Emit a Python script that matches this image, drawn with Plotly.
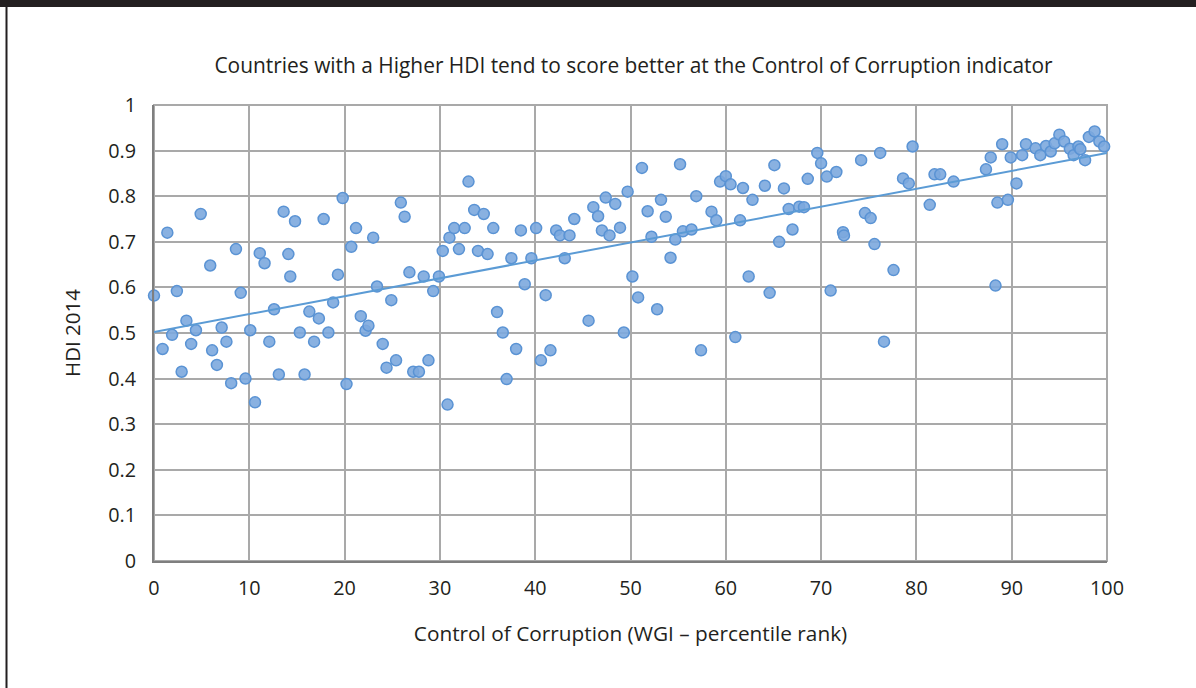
import numpy as np
import plotly.graph_objects as go

# Control of Corruption (WGI percentile rank)
wgi = [0.0, 0.9, 1.4, 1.9, 2.4, 2.9, 3.4, 3.9, 4.4, 4.9, 5.9, 6.1, 6.6, 7.1, 7.6, 8.1, 8.6, 9.1, 9.6,
       10.1, 10.6, 11.1, 11.6, 12.1, 12.6, 13.1, 13.6, 14.1, 14.3, 14.8, 15.3, 15.8, 16.3, 16.8, 17.3,
       17.8, 18.3, 18.8, 19.3, 19.8, 20.2, 20.7, 21.2, 21.7, 22.2, 22.5, 23.0, 23.4, 24.0, 24.4, 24.9,
       25.4, 25.9, 26.3, 26.8, 27.2, 27.8, 28.3, 28.8, 29.3, 29.9, 30.3, 30.8, 31.0, 31.5, 32.0, 32.6,
       33.0, 33.6, 34.0, 34.6, 35.0, 35.6, 36.0, 36.6, 37.0, 37.5, 38.0, 38.5, 38.9, 39.6, 40.1, 40.6,
       41.1, 41.6, 42.2, 42.6, 43.1, 43.6, 44.1, 45.6, 46.1, 46.6, 47.0, 47.4, 47.8, 48.4, 48.9, 49.3,
       49.7, 50.2, 50.8, 51.2, 51.8, 52.2, 52.8, 53.2, 53.7, 54.2, 54.7, 55.2, 55.5, 56.4, 56.9, 57.4,
       58.5, 59.0, 59.4, 60.0, 60.5, 61.0, 61.5, 61.8, 62.4, 62.8, 64.1, 64.6, 65.1, 65.6, 66.1, 66.6,
       67.0, 67.7, 68.2, 68.6, 69.6, 70.0, 70.6, 71.0, 71.6, 72.3, 72.4, 74.2, 74.6, 75.2, 75.6, 76.2,
       76.6, 77.6, 78.6, 79.2, 79.6, 81.4, 81.9, 82.5, 83.9, 87.3, 87.8, 88.3, 88.5, 89.0, 89.6, 89.9,
       90.5, 91.1, 91.5, 92.5, 93.0, 93.6, 94.1, 94.5, 95.0, 95.5, 96.1, 96.5, 97.0, 97.2, 97.7, 98.1,
       98.7, 99.2, 99.7]

# HDI 2014
hdi = [0.582, 0.465, 0.72, 0.496, 0.592, 0.415, 0.527, 0.476, 0.506, 0.761, 0.648, 0.462, 0.43, 0.512,
       0.481, 0.39, 0.684, 0.588, 0.40, 0.506, 0.348, 0.675, 0.653, 0.481, 0.552, 0.409, 0.766, 0.673,
       0.624, 0.745, 0.501, 0.409, 0.547, 0.481, 0.532, 0.75, 0.501, 0.567, 0.628, 0.796, 0.388, 0.689,
       0.73, 0.537, 0.505, 0.516, 0.709, 0.602, 0.476, 0.424, 0.572, 0.44, 0.786, 0.755, 0.633, 0.415,
       0.415, 0.624, 0.44, 0.592, 0.624, 0.68, 0.343, 0.709, 0.73, 0.684, 0.73, 0.832, 0.77, 0.68, 0.761,
       0.673, 0.73, 0.546, 0.501, 0.399, 0.664, 0.465, 0.725, 0.607, 0.664, 0.73, 0.44, 0.583, 0.462,
       0.725, 0.714, 0.664, 0.714, 0.75, 0.527, 0.776, 0.756, 0.725, 0.797, 0.714, 0.783, 0.731, 0.501,
       0.81, 0.624, 0.578, 0.862, 0.767, 0.711, 0.552, 0.792, 0.755, 0.665, 0.705, 0.87, 0.723, 0.727,
       0.80, 0.462, 0.766, 0.747, 0.832, 0.844, 0.826, 0.491, 0.747, 0.818, 0.624, 0.792, 0.823, 0.588,
       0.868, 0.70, 0.817, 0.772, 0.727, 0.777, 0.776, 0.838, 0.895, 0.872, 0.843, 0.593, 0.853, 0.721,
       0.714, 0.879, 0.763, 0.752, 0.695, 0.895, 0.481, 0.638, 0.839, 0.828, 0.909, 0.781, 0.848, 0.848,
       0.832, 0.859, 0.885, 0.604, 0.786, 0.914, 0.792, 0.885, 0.828, 0.89, 0.914, 0.905, 0.89, 0.91,
       0.898, 0.916, 0.935, 0.92, 0.904, 0.89, 0.909, 0.903, 0.879, 0.93, 0.942, 0.92, 0.909]

x_ticks = [0, 10, 20, 30, 40, 50, 60, 70, 80, 90, 100]
y_ticks = [0, 0.1, 0.2, 0.3, 0.4, 0.5, 0.6, 0.7, 0.8, 0.9, 1]
y_tick_labels = ["0", "0.1", "0.2", "0.3", "0.4", "0.5", "0.6", "0.7", "0.8", "0.9", "1"]

title_text = "Countries with a Higher HDI tend to score better at the Control of Corruption indicator"
x_title = "Control of Corruption (WGI – percentile rank)"
y_title = "HDI 2014"

slope, intercept = np.polyfit(np.array(wgi), np.array(hdi), 1)
trend_x = np.array([0, 100])
trend_y = intercept + slope * trend_x

FONT = "Open Sans"
TXT = "#231f20"
GRID = "#a9a9a9"

fig = go.Figure()
fig.add_trace(go.Scatter(
    x=wgi, y=hdi, mode="markers",
    marker=dict(size=11, color="rgba(124,168,222,0.9)", line=dict(color="#5a93d4", width=1.5)),
    cliponaxis=False, showlegend=False, hoverinfo="x+y"))
fig.add_trace(go.Scatter(
    x=trend_x, y=trend_y, mode="lines",
    line=dict(color="#5b9bd5", width=2), showlegend=False, hoverinfo="skip"))

W, H = 1196, 688
L, R, T, B = 154, 89, 105, 127
pw, ph = W - L - R, H - T - B

def px2paper_x(px):
    return (px - L) / pw

def px2paper_y(py):
    return (H - B - py) / ph

shapes = [
    # dark band at top
    dict(type="rect", xref="paper", yref="paper",
         x0=px2paper_x(0), x1=px2paper_x(W), y0=px2paper_y(7), y1=px2paper_y(-2),
         fillcolor=TXT, line=dict(width=0), layer="above"),
    # left frame line
    dict(type="line", xref="paper", yref="paper",
         x0=px2paper_x(6.5), x1=px2paper_x(6.5), y0=px2paper_y(7), y1=px2paper_y(H + 2),
         line=dict(color=TXT, width=2)),
    # plot border top/right
    dict(type="rect", xref="paper", yref="paper", x0=0, x1=1, y0=0, y1=1,
         line=dict(color=GRID, width=2), layer="below"),
]

fig.update_layout(
    width=W, height=H,
    margin=dict(l=L, r=R, t=T, b=B),
    paper_bgcolor="white", plot_bgcolor="white",
    font=dict(family=FONT, size=20, color=TXT),
    title=dict(text=title_text, x=(633.5 / W), xanchor="center", xref="container",
               y=1 - 66 / H, yanchor="middle", yref="container",
               font=dict(family=FONT, size=20.9, color=TXT)),
    shapes=shapes,
    xaxis=dict(range=[0, 100], tickvals=x_ticks, showgrid=True, gridcolor=GRID, gridwidth=2,
               zeroline=False, showline=True, linecolor="#7f7f7f", linewidth=2,
               ticks="", ticklabelstandoff=8, tickfont=dict(size=19.8),
               title=dict(text=x_title, standoff=27, font=dict(size=20.8))),
    yaxis=dict(range=[0, 1], tickvals=y_ticks, ticktext=y_tick_labels, showgrid=True,
               gridcolor=GRID, gridwidth=2, zeroline=False, showline=True, linecolor="#7f7f7f",
               linewidth=2, ticks="", ticklabelstandoff=12, tickfont=dict(size=19.8),
               title=dict(text=y_title, standoff=22, font=dict(size=20.5))),
)

fig.write_html("out.html", config={"displayModeBar": False},
               post_script="document.body.style.margin='0px';")
